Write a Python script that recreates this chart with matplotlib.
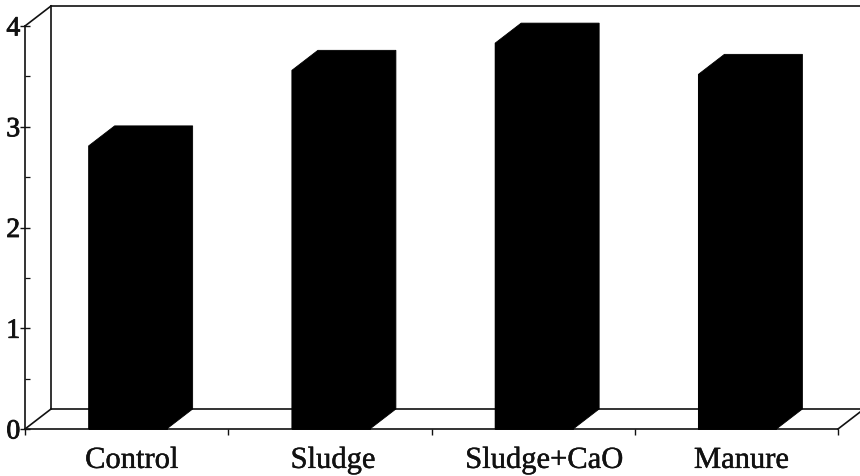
import matplotlib
matplotlib.use("Agg")
import matplotlib.pyplot as plt
import matplotlib.patheffects as pe
from matplotlib.patches import Polygon

categories = ["Control", "Sludge", "Sludge+CaO", "Manure"]
values = [2.81, 3.56, 3.83, 3.52]
y_ticks = [0, 1, 2, 3, 4]
y_minor = [0.5, 1.5, 2.5, 3.5]
label_shift_px = [4, 2, 10, 4]

W, H = 860, 477
L, R, B, T = 25, 838, 430, 27   # axes box in image pixels
DX = 26 / ((R - L) / 4)         # depth in category units
DY = 20 / ((B - T) / 4)         # depth in value units
BAR = 78 / ((R - L) / 4)

plt.rcParams["font.family"] = ["Liberation Serif", "DejaVu Serif"]
fig = plt.figure(figsize=(W / 100, H / 100), dpi=100)
ax = fig.add_axes([L / W, 1 - B / H, (R - L) / W, (B - T) / H])
ax.set_xlim(0, 4)
ax.set_ylim(0, 4)
for s in ("top", "right"):
    ax.spines[s].set_visible(False)
for s in ("left", "bottom"):
    ax.spines[s].set_linewidth(1.2)
    ax.spines[s].set_color("#111111")

lk = dict(color="#111111", lw=1.2, clip_on=False, zorder=1)
xend = 4 + 22 / ((R - L) / 4)
ax.plot([DX, DX], [DY, 4 + DY], **lk)               # back wall left edge
ax.plot([DX, xend + 0.05], [4 + DY, 4 + DY], **lk)  # back wall top
ax.plot([DX, xend + 0.05], [DY, DY], **lk)          # back wall bottom
ax.plot([0, DX], [0, DY], **lk)                     # floor left
ax.plot([0, DX], [4, 4 + DY], **lk)                 # top left
ax.plot([4, xend], [0, DY * 22 / 26], **lk)         # floor right

centers = [0.505 + i for i in range(len(values))]
for c, v in zip(centers, values):
    ax.bar(c, v, width=BAR, color="black", edgecolor="black", linewidth=0.6, zorder=3, clip_on=False)
    x0, x1 = c - BAR / 2, c + BAR / 2
    ax.add_patch(Polygon(
        [(x0, 0), (x0, v), (x0 + DX, v + DY), (x1 + DX, v + DY), (x1 + DX, DY), (x1, 0)],
        closed=True, facecolor="black", edgecolor="black", linewidth=0.6, zorder=4, clip_on=False))

ax.set_xticks([0, 1, 2, 3, 4])
ax.set_xticklabels([])
ax.tick_params(axis="x", which="major", direction="out", length=4.5, width=1.0, color="#111111")
ax.set_yticks(y_ticks)
ax.set_yticks(y_minor, minor=True)
ax.tick_params(axis="y", which="major", direction="inout", length=7, width=1.0, pad=0,
               labelsize=20, color="#111111", labelcolor="#111111")
ax.tick_params(axis="y", which="minor", direction="in", length=3.5, width=0.9, color="#111111")

thick = [pe.withStroke(linewidth=0.6, foreground="#111111")]
for t in ax.get_yticklabels():
    t.set_path_effects(thick)

for c, name, sh in zip(centers, categories, label_shift_px):
    ax.annotate(name, xy=(c, 0), xycoords="data", xytext=(sh * 0.72, -28), textcoords="offset points",
                ha="center", va="baseline", fontsize=22, color="#111111", annotation_clip=False,
                path_effects=[pe.withStroke(linewidth=0.3, foreground="#111111")])

fig.savefig("out.png", dpi=100)
